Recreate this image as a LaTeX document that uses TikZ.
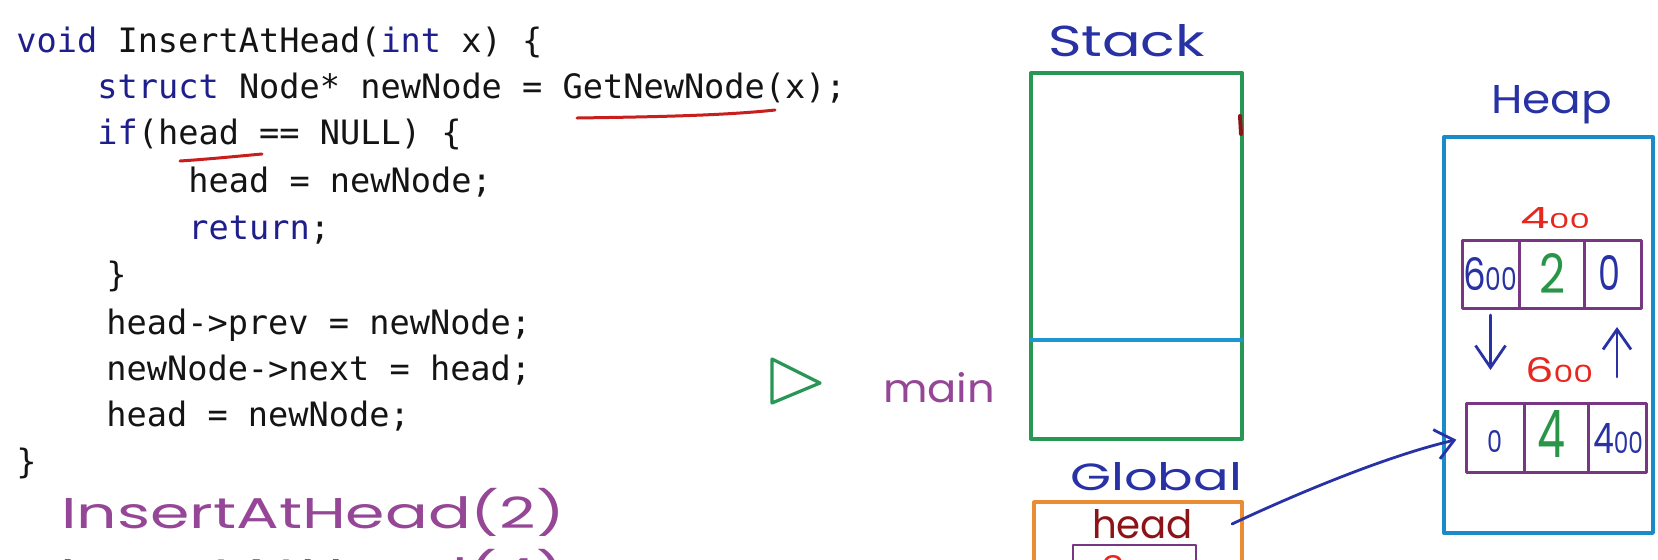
\documentclass[tikz,border=0pt]{standalone}
\usepackage{fontspec}
\usepackage{graphicx}
\usetikzlibrary{arrows.meta,calc}
\newfontfamily\codefont{DejaVu Sans Mono}
\newfontfamily\handfont{Poppins}
\definecolor{kw}{RGB}{30,30,140}
\definecolor{codeblack}{RGB}{20,20,20}
\definecolor{stackgreen}{RGB}{40,150,85}
\definecolor{linecyan}{RGB}{30,150,210}
\definecolor{heapblue}{RGB}{25,140,200}
\definecolor{globorange}{RGB}{235,140,50}
\definecolor{cellpurple}{RGB}{120,55,130}
\definecolor{penblue}{RGB}{40,50,165}
\definecolor{penred}{RGB}{230,40,30}
\definecolor{pendarkred}{RGB}{140,20,25}
\definecolor{pengreen}{RGB}{40,150,70}
\definecolor{penpurple}{RGB}{150,70,150}
\definecolor{ulred}{RGB}{200,30,30}
\newcommand\kw[1]{\textcolor{kw}{#1}}
\newcommand\handtxt[3]{\resizebox{#1pt}{#2}{\handfont #3}}
\newcommand\capbox[3]{\resizebox{#1pt}{#2pt}{\handfont\smash{#3}\vphantom{I}}}
\newcommand\smz[1]{\scalebox{0.7}{#1}}
\begin{document}
\begin{tikzpicture}[x=0.5pt,y=-0.5pt,line cap=round,line join=round]
\tikzset{
  code/.style={anchor=base west, inner sep=0pt, text=codeblack,
    font=\codefont\fontsize{16.8pt}{20pt}\selectfont},
  hand/.style={anchor=base, inner sep=0pt},
  boxs/.style={draw, inner sep=0pt, outer sep=0pt},
  cell/.style={boxs, draw=cellpurple, line width=1.5pt},
  pen/.style={line width=1.4pt, draw=penblue},
  ulstroke/.style={draw=ulred, line width=1.5pt}
}
\useasboundingbox (0,0) rectangle (1658,559);
\fill[white] (0,0) rectangle (1658,559);
\clip (0,0) rectangle (1658,559);

% ---------- code ----------
\node[code] (l1) at (16,52) {\kw{void} InsertAtHead(\kw{int} x) \{};
\node[code] (l2) at (97,98) {\kw{struct} Node* newNode = GetNewNode(x);};
\node[code] (l3) at (97,144) {\kw{if}(head == NULL) \{};
\node[code] (l4) at (188,192) {head = newNode;};
\node[code] (l5) at (188,239) {\kw{return};};
\node[code] (l6) at (106,286) {\}};
\node[code] (l7) at (106,334) {head->prev = newNode;};
\node[code] (l8) at (106,380) {newNode->next = head;};
\node[code] (l9) at (106,426) {head = newNode;};
\node[code] (l10) at (16,473) {\}};

% red underlines
\coordinate (u1a) at (577,118);
\coordinate (u1b) at (775,110);
\draw[ulstroke] (u1a) .. controls (640,117) and (720,116) .. (u1b);
\coordinate (u2a) at (180,161);
\coordinate (u2b) at (262,154);
\draw[ulstroke] (u2a) .. controls (210,159) and (240,156) .. (u2b);

% handwritten calls
\node[hand, text=penpurple] (call2) at (313,528) {\capbox{252}{15}{InsertAtHead(2)}};
\node[hand, text=penpurple] (call4) at (313,589) {\capbox{252}{15}{InsertAtHead(4)}};

% ---------- main marker ----------
\draw[draw=stackgreen, line width=1.6pt] (772,359) -- (820,383) -- (772,403) -- cycle;
\node[hand, text=penpurple] (mainlbl) at (939,402) {\handtxt{56}{15pt}{main}};

% ---------- stack ----------
\node[hand, text=penblue] (stacklbl) at (1126.5,56) {\handtxt{78.5}{16pt}{Stack}};
\node[boxs, draw=stackgreen, line width=2pt, minimum width=105.5pt, minimum height=183pt] (stack) at (1136.5,256) {};
\coordinate (mainline) at (0,340);
\draw[draw=linecyan, line width=1.6pt] (stack.west |- mainline) -- (stack.east |- mainline);
\draw[draw=pendarkred, line width=2pt] (1240,116) -- (1241,134);

% ---------- global ----------
\node[hand, text=penblue] (globlbl) at (1156,490) {\handtxt{86}{14pt}{Global}};
\node[boxs, draw=globorange, line width=1.6pt, minimum width=104pt, minimum height=60pt, anchor=north] (glob) at (1138,502) {};
\node[hand, text=pendarkred] (headlbl) at (1142.5,538) {\handtxt{50.5}{14.5pt}{head}};
\node[boxs, draw=cellpurple, line width=1.4pt, minimum width=61.5pt, minimum height=30pt, anchor=north] (headcell) at (1134.5,545) {};
\node[hand, text=penred] (headval) at (1130,580) {\handtxt{30}{12.5pt}{6\smz{00}}};

% ---------- heap ----------
\node[hand, text=penblue] (heaplbl) at (1551.5,113) {\handtxt{60.5}{14pt}{Heap}};
\node[boxs, draw=heapblue, line width=1.7pt, minimum width=104.5pt, minimum height=198pt] (heap) at (1548.5,335) {};

\node[hand, text=penred] (addr1) at (1555,228) {\handtxt{35}{10.5pt}{4\smz{00}}};
\node[cell, minimum width=28.5pt, minimum height=34pt] (n1a) at (1490.5,274) {};
\node[cell, minimum width=32.5pt, minimum height=34pt] (n1b) at (1551.5,274) {};
\node[cell, minimum width=28.5pt, minimum height=34pt] (n1c) at (1612.5,274) {};
\node[hand, text=penblue] (v1a) at (1490,290) {\handtxt{27}{16.5pt}{6\smz{00}}};
\node[hand, text=pengreen] (v1b) at (1552,293) {\handtxt{13}{20pt}{2}};
\node[hand, text=penblue] (v1c) at (1609,290) {\handtxt{11}{17.5pt}{0}};

\node[hand, text=penred] (addr2) at (1559,382) {\handtxt{34}{12.5pt}{6\smz{00}}};
\node[cell, minimum width=29pt, minimum height=34.5pt] (n2a) at (1495,437.5) {};
\node[cell, minimum width=32pt, minimum height=34.5pt] (n2b) at (1556,437.5) {};
\node[cell, minimum width=29pt, minimum height=34.5pt] (n2c) at (1617,437.5) {};
\node[hand, text=penblue] (v2a) at (1494.5,452) {\handtxt{7.5}{11pt}{0}};
\node[hand, text=pengreen] (v2b) at (1551,457) {\handtxt{14}{23.5pt}{4}};
\node[hand, text=penblue] (v2c) at (1618,453) {\handtxt{25}{15pt}{4\smz{00}}};

% links between heap nodes
\draw[pen, -{Straight Barb[length=11pt,width=15pt]}, shorten <=3.5pt, shorten >=16.5pt]
  (n1a.south) -- (n1a.south |- n2a.north);
\draw[pen, -{Straight Barb[length=10pt,width=14pt]}, shorten <=13pt, shorten >=9.5pt]
  (n2c.north) -- (n2c.north |- n1c.south);

% head pointer
\coordinate (hstart) at (1232,524);
\draw[pen, -{Straight Barb[length=9pt,width=15pt]}, shorten >=5pt]
  (hstart) .. controls (1300,492) and (1390,455) .. (n2a.west);
\end{tikzpicture}
\end{document}
